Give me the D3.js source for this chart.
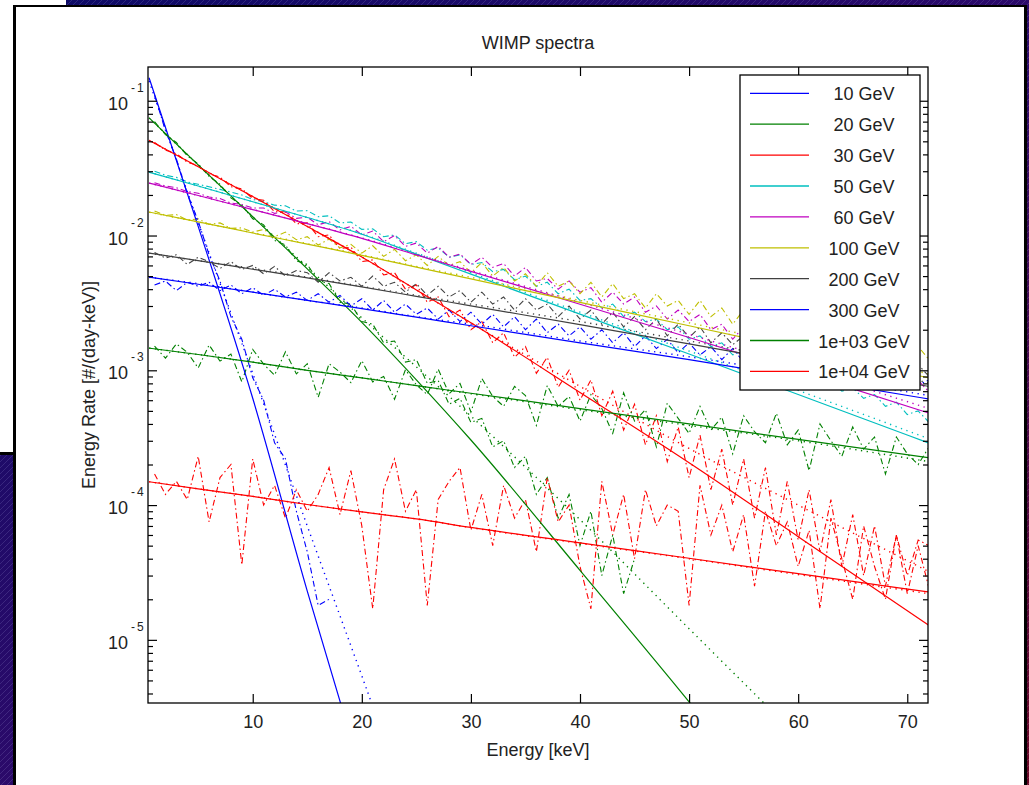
<!DOCTYPE html>
<html>
<head>
<meta charset="utf-8">
<script src="https://cdn.jsdelivr.net/npm/d3@7"></script>
<style>
  body { margin: 0; background: #fff; }
  text { font-family: "Liberation Sans", Arial, Helvetica, sans-serif; }
</style>
</head>
<body>
<div id="chart"></div>
<script>
// ---- data ----
const masses = ["10 GeV", "20 GeV", "30 GeV", "50 GeV", "60 GeV", "100 GeV", "200 GeV", "300 GeV", "1e+03 GeV", "1e+04 GeV"];

// energies (keV) where the smooth curves were sampled
const theoryE = [0.5, 5, 10, 15, 20, 25, 30, 40, 50, 60, 72];

// solid curves
const solid10  = [0.148, 0.0117, 6.2e-4, 2.3e-5, 1.0e-6, null, null, null, null, null, null];
const solid20  = [0.0746, 0.0334, 0.01377, 5.66e-3, 2.27e-3, 8.5e-4, 3.04e-4, 3.28e-5, 3.47e-6, 3.4e-7, null];
const solid30  = [0.0508, 0.0324, 0.01946, 0.01167, 6.93e-3, 3.95e-3, 2.25e-3, 6.85e-4, 2.06e-4, 5.83e-5, 1.28e-5];
const solid50  = [0.0295, 0.0233, 0.0178, 0.0136, 0.01023, 7.28e-3, 5.17e-3, 2.61e-3, 1.32e-3, 6.61e-4, 2.88e-4];
const solid60  = [0.0245, 0.0198, 0.01557, 0.01224, 9.52e-3, 7.18e-3, 5.42e-3, 3.09e-3, 1.75e-3, 9.82e-4, 4.81e-4];
const solid100 = [0.01493, 0.01264, 0.01044, 8.63e-3, 7.13e-3, 5.83e-3, 4.77e-3, 3.19e-3, 2.14e-3, 1.43e-3, 8.77e-4];
const solid200 = [7.41e-3, 6.51e-3, 5.62e-3, 4.85e-3, 4.16e-3, 3.54e-3, 3.01e-3, 2.18e-3, 1.57e-3, 1.13e-3, 7.59e-4];
const solid300 = [4.92e-3, 4.35e-3, 3.8e-3, 3.3e-3, 2.87e-3, 2.48e-3, 2.14e-3, 1.6e-3, 1.2e-3, 8.86e-4, 6.12e-4];
const solid1e3 = [1.46e-3, 1.31e-3, 1.15e-3, 1.0e-3, 8.79e-4, 7.69e-4, 6.76e-4, 5.2e-4, 4.0e-4, 3.07e-4, 2.24e-4];
const solid1e4 = [1.49e-4, 1.32e-4, 1.16e-4, 1.01e-4, 8.89e-5, 7.9e-5, 6.83e-5, 5.25e-5, 4.03e-5, 3.1e-5, 2.26e-5];

// dotted curves
const dotted10  = [0.140, 0.0125, 9.5e-4, 7.0e-5, 5.4e-6, 4.0e-7, null, null, null, null, null];
const dotted20  = [0.0746, 0.0334, 0.0138, 5.85e-3, 2.45e-3, 1.06e-3, 4.57e-4, 7.8e-5, 1.21e-5, 1.9e-6, null];
const dotted30  = [0.0508, 0.0324, 0.0195, 0.0117, 6.93e-3, 3.95e-3, 2.25e-3, 7.6e-4, 2.63e-4, 1.0e-4, 3.2e-5];
const dotted50  = [0.0295, 0.0233, 0.0178, 0.0136, 0.0103, 0.0074, 0.0053, 0.0027, 0.00139, 0.00071, 0.00031];
const dotted60  = [0.0245, 0.0198, 0.0156, 0.0123, 0.0096, 0.0073, 0.0055, 0.0032, 0.00185, 0.00105, 0.00052];
const dotted100 = [0.0149, 0.0126, 0.0105, 0.0087, 0.0072, 0.0059, 0.0049, 0.0033, 0.00225, 0.00152, 0.00094];
const dotted200 = [0.0074, 0.0065, 0.0057, 0.0049, 0.0042, 0.0036, 0.0031, 0.0023, 0.00165, 0.00119, 0.00081];
const dotted300 = [0.0049, 0.0044, 0.0038, 0.0033, 0.0029, 0.0025, 0.0022, 0.00165, 0.00126, 0.00094, 0.00065];
const dotted1e3 = [0.00146, 0.00131, 0.00115, 0.00100, 0.00088, 0.00077, 0.00067, 0.00051, 0.00039, 0.00030, 0.00021];
const dotted1e4 = [1.49e-4, 1.32e-4, 1.16e-4, 1.01e-4, 8.9e-5, 7.9e-5, 6.8e-5, 5.2e-5, 4.0e-5, 3.05e-5, 2.2e-5];

// simulated (dash-dot) spectra, 1 keV bins
const mcE = [1,2,3,4,5,6,7,8,9,10,11,12,13,14,15,16,17,18,19,20,21,22,23,24,25,26,27,28,29,30,31,32,33,34,35,36,
  37,38,39,40,41,42,43,44,45,46,47,48,49,50,51,52,53,54,55,56,57,58,59,60,61,62,63,64,65,66,67,68,69,70,71,72];

const mc10 = [0.110, 0.060, 0.037, 0.0205, 0.0128, 0.0072, 0.0046, 0.0025, 0.0017, 0.00088,
  0.00060, 0.00029, 0.00022, 0.000090, 0.000045, 0.000018, 0.000020];
const mc20 = [0.070, 0.056, 0.049, 0.039, 0.034, 0.0275, 0.024, 0.0190, 0.0168, 0.0133,
  0.0120, 0.0092, 0.0085, 0.0065, 0.0061, 0.0046, 0.0044, 0.0032, 0.0031, 0.0023,
  0.0022, 0.0016, 0.00165, 0.00115, 0.00120, 0.00080, 0.00084, 0.00056, 0.00062, 0.00041,
  0.00044, 0.00027, 0.00030, 0.00019, 0.00023, 0.00012, 0.00016, 0.000080, 0.00012, 0.000050,
  0.000090, 0.000030, 0.000060, 0.000022, 0.000040];
const mc30 = [0.049, 0.0430, 0.0405, 0.0350, 0.0330, 0.0285, 0.0272, 0.0230, 0.0222, 0.0188,
  0.0183, 0.0150, 0.0150, 0.0122, 0.0124, 0.0098, 0.0101, 0.0080, 0.0082, 0.0064,
  0.0066, 0.0051, 0.0053, 0.0040, 0.0043, 0.0032, 0.0035, 0.0025, 0.0028, 0.0020,
  0.0023, 0.0016, 0.0019, 0.00125, 0.0015, 0.00095, 0.00125, 0.00075, 0.0010, 0.00060,
  0.00085, 0.00046, 0.00070, 0.00036, 0.00056, 0.00028, 0.00046, 0.00021, 0.00038, 0.00016,
  0.00033, 0.00013, 0.00026, 0.00010, 0.00022, 0.000080, 0.00019, 0.000060, 0.00015, 0.000055,
  0.00013, 0.000045, 0.00011, 0.000035, 0.000085, 0.000030, 0.000070, 0.000025, 0.000060, 0.000022, 0.000050, 0.000024];
const mc50 = [0.030, 0.028, 0.027, 0.025, 0.024, 0.023, 0.022, 0.021, 0.020, 0.0185,
  0.0178, 0.0168, 0.0166, 0.0152, 0.0153, 0.0138, 0.0140, 0.0124, 0.0126, 0.0111,
  0.0112, 0.0098, 0.0101, 0.0087, 0.0090, 0.0078, 0.0081, 0.0069, 0.0072, 0.0061,
  0.0063, 0.0054, 0.0056, 0.0047, 0.0050, 0.0042, 0.0045, 0.0037, 0.0040, 0.0033,
  0.0034, 0.0029, 0.0031, 0.0025, 0.0027, 0.0023, 0.0024, 0.0020, 0.0021, 0.0017,
  0.0018, 0.0015, 0.0016, 0.0013, 0.0014, 0.00118, 0.00125, 0.00104, 0.00110, 0.00090,
  0.00095, 0.00080, 0.00085, 0.00070, 0.00074, 0.00062, 0.00066, 0.00054, 0.00058, 0.00047, 0.00050, 0.00041];
const mc60 = [0.0246, 0.0233, 0.0226, 0.0212, 0.0206, 0.0193, 0.0188, 0.0174, 0.0170, 0.0160,
  0.0160, 0.0146, 0.0150, 0.0134, 0.0137, 0.0120, 0.0127, 0.0110, 0.0117, 0.0101,
  0.0108, 0.0090, 0.0100, 0.0083, 0.0088, 0.0074, 0.0083, 0.0069, 0.0073, 0.0061,
  0.0069, 0.0058, 0.0062, 0.0050, 0.0058, 0.0046, 0.0048, 0.0040, 0.0046, 0.0038,
  0.0041, 0.0032, 0.0038, 0.0031, 0.0035, 0.0027, 0.0030, 0.0024, 0.0028, 0.0023,
  0.0026, 0.0020, 0.0022, 0.0017, 0.0021, 0.0016, 0.0018, 0.0014, 0.0016, 0.0013,
  0.0015, 0.0011, 0.0014, 0.00105, 0.00113, 0.00087, 0.00108, 0.00086, 0.00093, 0.00072, 0.00084, 0.00069];
const mc100 = [0.0152, 0.0141, 0.0143, 0.0130, 0.0133, 0.0121, 0.0124, 0.0113, 0.0114, 0.0106,
  0.0111, 0.0098, 0.0106, 0.0093, 0.0098, 0.0085, 0.0094, 0.0081, 0.0086, 0.0074,
  0.0084, 0.0070, 0.0079, 0.0065, 0.0072, 0.0060, 0.0070, 0.0060, 0.0064, 0.0053,
  0.0063, 0.0050, 0.0058, 0.0046, 0.0052, 0.0042, 0.0053, 0.0042, 0.0046, 0.0037,
  0.0045, 0.0035, 0.0044, 0.0034, 0.0037, 0.0029, 0.0037, 0.0030, 0.0033, 0.0026,
  0.0033, 0.0025, 0.0029, 0.0022, 0.0028, 0.0022, 0.0027, 0.0020, 0.0023, 0.0018,
  0.0023, 0.0017, 0.0022, 0.0017, 0.0019, 0.0014, 0.0018, 0.0014, 0.0017, 0.0013, 0.0015, 0.0012];
const mc200 = [0.0075, 0.0068, 0.0072, 0.0061, 0.0069, 0.0064, 0.0057, 0.0064, 0.0056, 0.0060,
  0.0052, 0.0059, 0.0050, 0.0055, 0.0053, 0.0045, 0.0053, 0.0046, 0.0049, 0.0042,
  0.0050, 0.0042, 0.0045, 0.0038, 0.0044, 0.0036, 0.0042, 0.0035, 0.0039, 0.0032,
  0.0038, 0.0031, 0.0035, 0.0028, 0.0034, 0.0028, 0.0031, 0.0025, 0.0030, 0.0024,
  0.0028, 0.0022, 0.0027, 0.0021, 0.0025, 0.0020, 0.0024, 0.0018, 0.0022, 0.00175,
  0.0021, 0.0016, 0.0019, 0.00155, 0.0018, 0.0014, 0.00175, 0.00135, 0.0016, 0.00125,
  0.0015, 0.0012, 0.0014, 0.0011, 0.00135, 0.00105, 0.00125, 0.0010, 0.00115, 0.0009, 0.0011, 0.0009];
const mc300 = [0.0043, 0.0046, 0.0039, 0.0045, 0.0042, 0.0045, 0.0039, 0.0043, 0.0037, 0.0041,
  0.0036, 0.0040, 0.0035, 0.0038, 0.0033, 0.0037, 0.0032, 0.0036, 0.0030, 0.0034,
  0.0028, 0.0033, 0.0027, 0.0031, 0.0026, 0.0029, 0.0024, 0.0028, 0.0023, 0.0027,
  0.0022, 0.0026, 0.0021, 0.0025, 0.0020, 0.0024, 0.0019, 0.0022, 0.0018, 0.0021,
  0.0017, 0.0020, 0.0016, 0.0019, 0.0015, 0.0018, 0.00145, 0.0017, 0.00135, 0.0016,
  0.0013, 0.0015, 0.0012, 0.00145, 0.00115, 0.0014, 0.0011, 0.0013, 0.00105, 0.00125,
  0.0010, 0.0012, 0.00095, 0.0011, 0.0009, 0.00105, 0.00085, 0.0010, 0.0008, 0.00095, 0.00078, 0.00085];
const mc1e3 = [1.51e-3, 1.23e-3, 1.57e-3, 1.36e-3, 1.04e-3, 1.54e-3, 1.17e-3, 1.32e-3, 8.2e-4, 1.43e-3,
  1.11e-3, 9.2e-4, 1.37e-3, 9.4e-4, 1.12e-3, 6.3e-4, 1.12e-3, 9.7e-4, 8.1e-4, 1.18e-3,
  8.2e-4, 9.0e-4, 6.1e-4, 1.01e-3, 7.8e-4, 6.6e-4, 1.02e-3, 6.7e-4, 8.0e-4, 4.9e-4,
  8.7e-4, 6.4e-4, 5.4e-4, 7.6e-4, 6.5e-4, 3.9e-4, 7.7e-4, 5.4e-4, 6.4e-4, 4.2e-4,
  6.6e-4, 5.2e-4, 3.4e-4, 6.8e-4, 4.2e-4, 5.1e-4, 2.7e-4, 5.7e-4, 4.4e-4, 3.4e-4,
  5.4e-4, 3.6e-4, 4.5e-4, 2.4e-4, 4.6e-4, 3.5e-4, 2.9e-4, 4.8e-4, 2.8e-4, 3.6e-4,
  1.8e-4, 4.0e-4, 3.0e-4, 2.3e-4, 3.8e-4, 2.6e-4, 3.2e-4, 1.7e-4, 3.2e-4, 2.4e-4, 2.0e-4, 2.7e-4];
const mc1e4 = [1.7e-4, 1.2e-4, 1.5e-4, 1.1e-4, 2.3e-4, 7.5e-5, 1.6e-4, 2.0e-4, 3.6e-5, 2.2e-4,
  1.0e-4, 1.4e-4, 8.0e-5, 1.3e-4, 9.0e-5, 1.2e-4, 1.9e-4, 8.5e-5, 1.8e-4, 7.0e-5,
  1.7e-5, 1.3e-4, 2.2e-4, 9.0e-5, 1.3e-4, 1.8e-5, 1.1e-4, 1.5e-4, 1.9e-4, 6.5e-5,
  1.2e-4, 5.0e-5, 1.4e-4, 8.0e-5, 1.1e-4, 4.5e-5, 1.6e-4, 7.5e-5, 1.0e-4, 3.5e-5,
  1.7e-5, 1.5e-4, 6.0e-5, 1.2e-4, 4.0e-5, 1.3e-4, 7.0e-5, 1.0e-4, 9.0e-5, 1.8e-5,
  1.4e-4, 6.0e-5, 1.0e-4, 4.5e-5, 8.5e-5, 2.5e-5, 9.0e-5, 5.0e-5, 7.5e-5, 3.5e-5,
  6.5e-5, 1.7e-5, 8.0e-5, 4.0e-5, 2.0e-5, 7.0e-5, 3.5e-5, 2.0e-5, 6.0e-5, 3.0e-5, 5.5e-5, 5.0e-5];

const xTicks = [10, 20, 30, 40, 50, 60, 70];
const yDecades = [1e-5, 1e-4, 1e-3, 1e-2, 1e-1];
const yExponents = ["-5", "-4", "-3", "-2", "-1"];

// ---- styling ----
const colors = ["#0000ff", "#008000", "#ff0000", "#00bfbf", "#bf00bf", "#bfbf00", "#404040", "#0000ff", "#008000", "#ff0000"];

const series = [
  [solid10, dotted10, mc10], [solid20, dotted20, mc20], [solid30, dotted30, mc30],
  [solid50, dotted50, mc50], [solid60, dotted60, mc60], [solid100, dotted100, mc100],
  [solid200, dotted200, mc200], [solid300, dotted300, mc300], [solid1e3, dotted1e3, mc1e3],
  [solid1e4, dotted1e4, mc1e4]
].map((s, i) => ({
  name: masses[i],
  color: colors[i],
  solid: theoryE.map((e, k) => [e, s[0][k]]),
  dotted: theoryE.map((e, k) => [e, s[1][k]]),
  mc: mcE.map((e, k) => [e, s[2][k] === undefined ? null : s[2][k]])
}));

const W = 1029, H = 785;
const plot = {l: 148, r: 928, t: 67, b: 703};

const svg = d3.select("#chart").append("svg")
  .attr("width", W)
  .attr("height", H);

// background (striped slide backdrop)
const defs = svg.append("defs");
const grad = defs.append("linearGradient").attr("id", "bg")
  .attr("x1", 0).attr("y1", 0).attr("x2", 1).attr("y2", 1);
grad.append("stop").attr("offset", 0).attr("stop-color", "#0c0b66");
grad.append("stop").attr("offset", 0.55).attr("stop-color", "#2e0a6a");
grad.append("stop").attr("offset", 1).attr("stop-color", "#6a0624");
const pat = defs.append("pattern").attr("id", "stripes")
  .attr("width", 6).attr("height", 6).attr("patternUnits", "userSpaceOnUse");
pat.append("path").attr("d", "M-1,7 L7,-1").attr("stroke", "rgba(200,200,255,0.25)").attr("stroke-width", 0.6);
defs.append("clipPath").attr("id", "clip").append("rect")
  .attr("x", plot.l).attr("y", plot.t).attr("width", plot.r - plot.l).attr("height", plot.b - plot.t);

svg.append("rect").attr("width", W).attr("height", H).attr("fill", "url(#bg)");
svg.append("rect").attr("width", W).attr("height", H).attr("fill", "url(#stripes)");

// window behind, then the figure window
svg.append("rect").attr("x", 0).attr("y", 0).attr("width", 66).attr("height", 453).attr("fill", "#fff");
svg.append("rect").attr("x", 0).attr("y", 452).attr("width", 14).attr("height", 3).attr("fill", "#000");
svg.append("rect").attr("x", 13).attr("y", 5).attr("width", 1014).attr("height", 790).attr("fill", "#000");
svg.append("rect").attr("x", 16).attr("y", 7).attr("width", 1008).attr("height", 790).attr("fill", "#fff");

const x = d3.scaleLinear().domain([0.4, 71.9]).range([plot.l, plot.r]);
const y = d3.scaleLog().domain([3.4e-6, 0.178]).range([plot.b, plot.t]);

const line = d3.line()
  .defined(d => d[1] != null)
  .x(d => x(d[0]))
  .y(d => y(d[1]));
const smooth = line.curve ? d3.line().defined(d => d[1] != null).x(d => x(d[0])).y(d => y(d[1])).curve(d3.curveMonotoneX) : line;

const lines = svg.append("g").attr("clip-path", "url(#clip)").attr("fill", "none");

lines.selectAll(".mc")
  .data(series)
  .enter()
  .append("path")
  .attr("class", "mc")
  .attr("d", d => line(d.mc))
  .attr("stroke", d => d.color)
  .attr("stroke-width", 1.1)
  .attr("stroke-dasharray", "6,3,1.5,3");

lines.selectAll(".dotted")
  .data(series)
  .enter()
  .append("path")
  .attr("class", "dotted")
  .attr("d", d => smooth(d.dotted))
  .attr("stroke", d => d.color)
  .attr("stroke-width", 1.4)
  .attr("stroke-dasharray", "1.3,4.5");

lines.selectAll(".solid")
  .data(series)
  .enter()
  .append("path")
  .attr("class", "solid")
  .attr("d", d => smooth(d.solid))
  .attr("stroke", d => d.color)
  .attr("stroke-width", 1.2);

// axes (MATLAB style: ticks inside, box on)
const minorY = y.ticks().filter(v => !yDecades.some(p => Math.abs(v / p - 1) < 1e-6));
const fontAttrs = g => g.attr("font-family", "Liberation Sans, Arial, sans-serif").attr("font-size", 18);

const gBottom = svg.append("g").attr("transform", `translate(0,${plot.b})`)
  .call(d3.axisBottom(x).tickValues(xTicks).tickSizeInner(-9).tickSizeOuter(0).tickPadding(12))
  .call(fontAttrs);
const gTop = svg.append("g").attr("transform", `translate(0,${plot.t})`)
  .call(d3.axisTop(x).tickValues(xTicks).tickSizeInner(-9).tickSizeOuter(0).tickFormat(""));

[[d3.axisLeft, plot.l], [d3.axisRight, plot.r]].forEach(([ax, px]) => {
  svg.append("g").attr("transform", `translate(${px},0)`)
    .call(ax(y).tickValues(yDecades).tickSizeInner(-9).tickSizeOuter(0).tickFormat(""));
  svg.append("g").attr("transform", `translate(${px},0)`)
    .call(ax(y).tickValues(minorY).tickSizeInner(-5).tickSizeOuter(0).tickFormat(""));
});

svg.selectAll(".domain").remove();
svg.selectAll(".tick line").attr("stroke", "#000").attr("stroke-width", 1.2);
gBottom.selectAll("text").attr("fill", "#222");

svg.append("rect")
  .attr("x", plot.l).attr("y", plot.t)
  .attr("width", plot.r - plot.l).attr("height", plot.b - plot.t)
  .attr("fill", "none").attr("stroke", "#000").attr("stroke-width", 1.3);

// y tick labels: 10 with superscript exponent
const yLab = svg.append("g").attr("fill", "#222");
yLab.selectAll(".base")
  .data(yDecades)
  .enter()
  .append("text")
  .attr("x", 128)
  .attr("y", d => y(d) + 9)
  .attr("text-anchor", "end")
  .attr("font-size", 18)
  .text("10");
yLab.selectAll(".exp")
  .data(yDecades)
  .enter()
  .append("text")
  .attr("x", 131)
  .attr("y", d => y(d) - 9)
  .attr("font-size", 12)
  .attr("letter-spacing", 2)
  .text((d, i) => yExponents[i]);

// titles
svg.append("text")
  .attr("x", (plot.l + plot.r) / 2).attr("y", 49)
  .attr("text-anchor", "middle").attr("font-size", 18).attr("fill", "#222")
  .text("WIMP spectra");
svg.append("text")
  .attr("x", (plot.l + plot.r) / 2).attr("y", 756)
  .attr("text-anchor", "middle").attr("font-size", 18).attr("fill", "#222")
  .text("Energy [keV]");
svg.append("text")
  .attr("transform", `translate(95,${(plot.t + plot.b) / 2}) rotate(-90)`)
  .attr("text-anchor", "middle").attr("font-size", 18).attr("fill", "#222")
  .text("Energy Rate [#/(day-keV)]");

// legend
const leg = svg.append("g");
leg.append("rect")
  .attr("x", 740).attr("y", 75).attr("width", 180).attr("height", 315)
  .attr("fill", "#fff").attr("stroke", "#000").attr("stroke-width", 1.3);
const rows = leg.selectAll(".row")
  .data(series)
  .enter()
  .append("g")
  .attr("class", "row")
  .attr("transform", (d, i) => `translate(0,${93.3 + i * 30.9})`);
rows.append("line")
  .attr("x1", 750).attr("x2", 809)
  .attr("stroke", d => d.color).attr("stroke-width", 1.3);
rows.append("text")
  .attr("x", 864).attr("y", 7)
  .attr("text-anchor", "middle").attr("font-size", 18).attr("fill", "#222")
  .text(d => d.name);
</script>
</body>
</html>
